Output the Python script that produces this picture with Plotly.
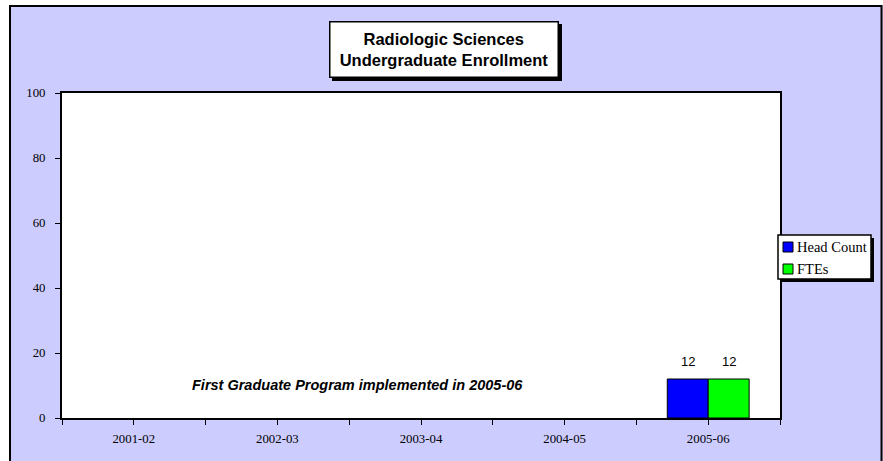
import plotly.graph_objects as go

categories = ["2001-02", "2002-03", "2003-04", "2004-05", "2005-06"]
series_names = ["Head Count", "FTEs"]
head_count = [None, None, None, None, 12]
ftes = [None, None, None, None, 12]
y_ticks = [0, 20, 40, 60, 80, 100]
series_colors = ["#0000FF", "#00FF00"]

W, H = 883, 461
PL, PR, PT, PB = 62, 780, 93, 418  # plot area in px


def px_x(px):
    return (px - PL) / (PR - PL)


def px_y(py):
    return (PB - py) / (PB - PT)


xpos = list(range(len(categories)))
series_values = [head_count, ftes]

fig = go.Figure()
for name, vals, col in zip(series_names, series_values, series_colors):
    fig.add_trace(go.Bar(
        x=xpos, y=vals, name=name,
        marker=dict(color=col, line=dict(color="black", width=1)),
        showlegend=False,
    ))

BARGAP = 0.43
nser = len(series_names)
bar_w = (1 - BARGAP) / nser

annotations = []
# data labels above bars
for k, vals in enumerate(series_values):
    for i, v in enumerate(vals):
        if v is None:
            continue
        annotations.append(dict(
            x=xpos[i] - (1 - BARGAP) / 2 + bar_w * (k + 0.5), y=v, xref="x", yref="y",
            text=str(v), showarrow=False, yanchor="bottom", yshift=8,
            font=dict(family="Liberation Sans, Arial", size=13, color="black")))

shapes = []
# white strips outside the lavender panel
shapes.append(dict(type="rect", xref="paper", yref="paper", x0=px_x(0), x1=px_x(9), y0=px_y(461), y1=px_y(0),
                   fillcolor="white", line=dict(width=0), layer="above"))
shapes.append(dict(type="rect", xref="paper", yref="paper", x0=px_x(0), x1=px_x(883), y0=px_y(5), y1=px_y(0),
                   fillcolor="white", line=dict(width=0), layer="above"))
# panel border (left, top, right)
shapes.append(dict(type="path", xref="paper", yref="paper",
                   path=f"M {px_x(10)} {px_y(461)} L {px_x(10)} {px_y(6)} L {px_x(881.5)} {px_y(6)} L {px_x(881.5)} {px_y(461)}",
                   line=dict(color="black", width=2), layer="above"))
# title shadow
shapes.append(dict(type="rect", xref="paper", yref="paper", x0=px_x(332), x1=px_x(562), y0=px_y(81), y1=px_y(24),
                   fillcolor="black", line=dict(width=0), layer="above"))
# legend (manual)
LX0, LX1, LY0, LY1 = 778, 871, 235, 279
shapes.append(dict(type="rect", xref="paper", yref="paper", x0=px_x(LX0 + 3), x1=px_x(LX1 + 3),
                   y0=px_y(LY1 + 3), y1=px_y(LY0 + 3), fillcolor="black", line=dict(width=0), layer="above"))
shapes.append(dict(type="rect", xref="paper", yref="paper", x0=px_x(LX0), x1=px_x(LX1),
                   y0=px_y(LY1), y1=px_y(LY0), fillcolor="white", line=dict(color="black", width=1.5), layer="above"))
for k, (name, col) in enumerate(zip(series_names, series_colors)):
    cy = 247 + 22 * k
    shapes.append(dict(type="rect", xref="paper", yref="paper", x0=px_x(783), x1=px_x(793),
                       y0=px_y(cy + 5), y1=px_y(cy - 5), fillcolor=col,
                       line=dict(color="black", width=1), layer="above"))
    annotations.append(dict(xref="paper", yref="paper", x=px_x(795), y=px_y(cy), xanchor="left", yanchor="middle",
                            text=name, showarrow=False,
                            font=dict(family="Liberation Serif, Times New Roman", size=14.5, color="black")))

annotations += [
    dict(xref="paper", yref="paper", x=px_x(444), y=px_y(49.5), xanchor="center", yanchor="middle",
         text="<b>Radiologic Sciences<br>Undergraduate Enrollment</b>", showarrow=False,
         font=dict(family="Liberation Sans, Arial", size=16.5, color="black"),
         bgcolor="white", bordercolor="black", borderwidth=1.5, borderpad=0,
         width=227, height=54, align="center"),
    dict(xref="paper", yref="paper", x=px_x(357), y=px_y(385), xanchor="center", yanchor="middle",
         text="<b><i>First Graduate Program implemented in 2005-06</i></b>", showarrow=False,
         font=dict(family="Liberation Sans, Arial", size=14.5, color="black")),
]

fig.update_layout(
    width=W, height=H,
    margin=dict(l=PL, r=W - PR, t=PT, b=H - PB, pad=0, autoexpand=False),
    paper_bgcolor="#CCCCFF", plot_bgcolor="white",
    barmode="group", bargap=BARGAP, bargroupgap=0,
    showlegend=False,
    shapes=shapes,
    annotations=annotations,
    font=dict(family="Liberation Serif, Times New Roman", size=12.8, color="black"),
)

fig.update_xaxes(
    range=[-0.5, len(categories) - 0.5], tickvals=xpos, ticktext=categories,
    ticks="outside", ticklen=5, tickcolor="black", tickwidth=1,
    minor=dict(tickvals=[i - 0.5 for i in range(len(categories) + 1)], ticks="outside", ticklen=5,
               tickcolor="black", tickwidth=1),
    showline=True, linecolor="black", linewidth=2, mirror=True, automargin=False,
    showgrid=False, zeroline=False, ticklabelstandoff=3,
    tickfont=dict(family="Liberation Serif, Times New Roman", size=12.8, color="black"),
)
fig.update_yaxes(
    range=[0, 100], tickvals=y_ticks, automargin=False,
    ticks="outside", ticklen=5, tickcolor="black", tickwidth=1,
    showline=True, linecolor="black", linewidth=2, mirror=True,
    showgrid=False, zeroline=False, ticklabelstandoff=7,
    tickfont=dict(family="Liberation Serif, Times New Roman", size=12.8, color="black"),
)

fig.write_html("out.html", config={"displayModeBar": False, "staticPlot": True},
               post_script="document.body.style.margin='0';document.body.style.overflow='hidden';")
